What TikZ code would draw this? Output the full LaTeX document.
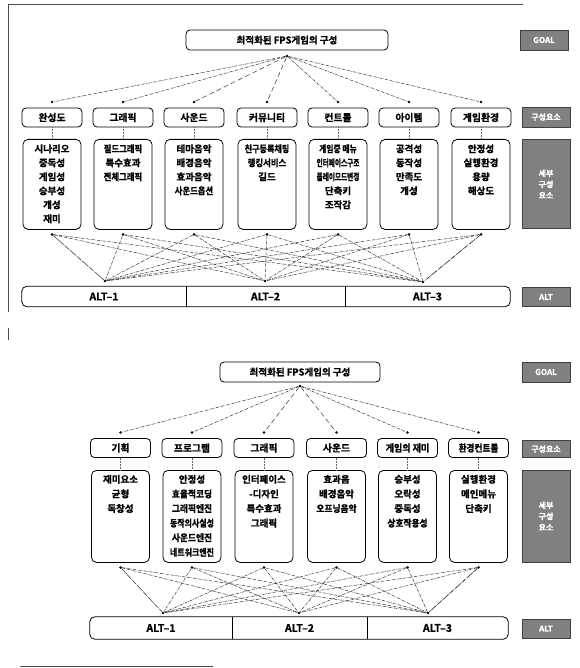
\documentclass[tikz,border=0pt]{standalone}
\usepackage{fontspec}
\setmainfont{Noto Sans CJK KR}[BoldFont={* Bold}, BoldFeatures={FakeBold=1.2}]
\usepackage{graphicx}
\usetikzlibrary{positioning}
\newcommand{\squish}[2]{\scalebox{#1}[1]{#2}}
\tikzset{
  crit/.style={draw, rounded corners=4pt, line width=0.8pt, minimum width=60pt,
               minimum height=19pt, inner sep=1pt, font=\bfseries\fontsize{9.8}{10}\selectfont},
  goalbox/.style={crit, minimum height=20pt, font=\bfseries\fontsize{9.5}{10}\selectfont},
  sub/.style={draw, rounded corners=5pt, line width=0.8pt, anchor=north, minimum width=58pt,
              inner sep=0pt, font=\bfseries\fontsize{9.5}{14}\selectfont},
  subB/.style={sub, font=\bfseries\fontsize{9.5}{14.6}\selectfont},
  tag/.style={fill=black!50, draw=black!75, minimum width=48pt, align=center, inner sep=1pt,
              text=white, font=\bfseries\fontsize{8}{11}\selectfont},
  alt/.style={minimum height=20pt, inner sep=0pt, font=\bfseries\fontsize{10.5}{11}\selectfont},
  dot/.style={circle, fill, inner sep=0pt, minimum size=2.8pt},
  lk/.style={line width=0.5pt, densely dash dot, black!80},
  lkd/.style={line width=0.5pt, dash pattern=on 5pt off 3pt, black!80},
  down/.style={line width=0.5pt, densely dotted, black!60},
  frame/.style={line width=0.6pt, black!70},
}
\begin{document}
\begin{tikzpicture}[x=1pt, y=-1pt]
  \useasboundingbox (0,0) rectangle (579,668);
  % scan frame
  \draw[frame] (8,312) -- (8,4) -- (523,4);
  \draw[frame] (8,328) -- (8,340);
  \draw[frame] (20,666) -- (213,666);

  % ===== upper hierarchy =====
  \node[goalbox, minimum width=202pt] (goalA) at (287,40) {최적화된 FPS게임의 구성};
  \node[dot] (gdA) at (287,56) {};

  \node[crit] (cA1) at (52,117.5) {완성도};
  \node[crit] (cA2) at (123,117.5) {그래픽};
  \node[crit] (cA3) at (194,117.5) {사운드};
  \node[crit] (cA4) at (267,117.5) {커뮤니티};
  \node[crit] (cA5) at (338,117.5) {컨트롤};
  \node[crit] (cA6) at (409,117.5) {아이템};
  \node[crit] (cA7) at (481,117.5) {게임환경};
  \foreach \i in {1,...,7} \node[dot, above=4pt of cA\i] (tA\i) {};

  \node[sub, minimum height=90pt] (sA1) at (52,139) {\parbox[c][80pt][t]{56pt}{\centering
    시나리오\\중독성\\게임성\\승부성\\개성\\재미}};
  \node[sub, minimum height=90pt] (sA2) at (123,139) {\parbox[c][80pt][t]{56pt}{\centering
    \squish{0.88}{필드그래픽}\\특수효과\\\squish{0.88}{전체그래픽}}};
  \node[sub, minimum height=90pt] (sA3) at (194,139) {\parbox[c][80pt][t]{56pt}{\centering
    테마음악\\배경음악\\효과음악\\\squish{0.88}{사운드옵션}}};
  \node[sub, minimum height=90pt] (sA4) at (267,139) {\parbox[c][80pt][t]{56pt}{\centering
    \squish{0.85}{친구등록채팅}\\\squish{0.88}{랭킹서비스}\\길드}};
  \node[sub, minimum height=90pt] (sA5) at (338,139) {\parbox[c][80pt][t]{56pt}{\centering
    \squish{0.82}{게임중 메뉴}\\\squish{0.7}{인터페이스구조}\\\squish{0.7}{플레이모드변경}\\단축키\\조작감}};
  \node[sub, minimum height=90pt] (sA6) at (409,139) {\parbox[c][80pt][t]{56pt}{\centering
    공격성\\동작성\\만족도\\개성}};
  \node[sub, minimum height=90pt] (sA7) at (481,139) {\parbox[c][80pt][t]{56pt}{\centering
    안정성\\실행환경\\용량\\해상도}};
  \foreach \i in {1,...,7} \node[dot, below=3pt of sA\i] (bA\i) {};

  \node[alt, minimum width=164pt] (altA1) at (104,296.5) {ALT–1};
  \node[alt, minimum width=159pt] (altA2) at (265.5,296.5) {ALT–2};
  \node[alt, minimum width=165pt] (altA3) at (427.5,296.5) {ALT–3};
  \draw[line width=0.8pt, rounded corners=5pt] (altA1.north west) rectangle (altA3.south east);
  \draw[line width=0.8pt] (altA1.north east) -- (altA1.south east);
  \draw[line width=0.8pt] (altA2.north east) -- (altA2.south east);
  \node[dot] (aA1) at (105,281) {};
  \node[dot] (aA2) at (265,281) {};
  \node[dot] (aA3) at (423,282) {};

  \draw[lk]  (gdA) -- (tA1);
  \draw[lk]  (gdA) -- (tA2);
  \draw[lkd] (gdA) -- (tA3);
  \draw[lkd] (gdA) -- (tA4);
  \draw[lk]  (gdA) -- (tA5);
  \draw[lk]  (gdA) -- (tA6);
  \draw[lk]  (gdA) -- (tA7);
  \foreach \i in {1,...,7} {
    \draw[down] (cA\i) -- (sA\i);
    \foreach \j in {1,2,3} \draw[lk] (bA\i) -- (aA\j);
  }
  \draw[lkd, white, line width=0.8pt] (bA1) -- (aA1);
  \draw[lkd] (bA1) -- (aA1);
  \draw[lkd] (bA7) -- (aA3);

  \node[tag, minimum height=20pt] (tagGA) at (544,40) {GOAL};
  \node[tag, minimum height=20pt] (tagCA) at (546,117) {구성요소};
  \node[tag, minimum height=89pt] (tagSA) at (546,184) {세부\\구성\\요소};
  \node[tag, minimum height=19pt] (tagAA) at (546,297) {ALT};

  % ===== lower hierarchy =====
  \node[goalbox, minimum width=160pt] (goalB) at (300,372) {최적화된 FPS게임의 구성};
  \node[dot] (gdB) at (300,386) {};

  \node[crit] (cB1) at (120.5,448) {기획};
  \node[crit] (cB2) at (192,448) {프로그램};
  \node[crit] (cB3) at (264,448) {그래픽};
  \node[crit] (cB4) at (336.5,448) {사운드};
  \node[crit] (cB5) at (407.5,448) {\squish{0.92}{게임의 재미}};
  \node[crit] (cB6) at (478.5,448) {\squish{0.88}{환경컨트롤}};
  \foreach \i in {1,...,6} \node[dot, above=4pt of cB\i] (tB\i) {};

  \node[subB, minimum height=92pt] (sB1) at (120.5,470) {\parbox[c][83pt][t]{56pt}{\centering
    재미요소\\균형\\독창성}};
  \node[subB, minimum height=92pt] (sB2) at (192,470) {\parbox[c][83pt][t]{56pt}{\centering
    안정성\\\squish{0.92}{효율적코딩}\\\squish{0.92}{그래픽엔진}\\\squish{0.84}{동작의사실성}\\\squish{0.92}{사운드엔진}\\\squish{0.84}{네트워크엔진}}};
  \node[subB, minimum height=92pt] (sB3) at (264,470) {\parbox[c][83pt][t]{56pt}{\centering
    인터페이스\\-디자인\\특수효과\\그래픽}};
  \node[subB, minimum height=92pt] (sB4) at (336.5,470) {\parbox[c][83pt][t]{56pt}{\centering
    효과음\\배경음악\\\squish{0.92}{오프닝음악}}};
  \node[subB, minimum height=92pt] (sB5) at (407.5,470) {\parbox[c][83pt][t]{56pt}{\centering
    승부성\\오락성\\중독성\\\squish{0.92}{상호작용성}}};
  \node[subB, minimum height=92pt] (sB6) at (478.5,470) {\parbox[c][83pt][t]{56pt}{\centering
    실행환경\\메인메뉴\\단축키}};
  \foreach \i in {1,...,6} \node[dot, below=3pt of sB\i] (bB\i) {};

  \node[alt, minimum width=142pt, minimum height=22pt] (altB1) at (161,628) {ALT–1};
  \node[alt, minimum width=135pt, minimum height=22pt] (altB2) at (299.5,628) {ALT–2};
  \node[alt, minimum width=141pt, minimum height=22pt] (altB3) at (437.5,628) {ALT–3};
  \draw[line width=0.8pt, rounded corners=5pt] (altB1.north west) rectangle (altB3.south east);
  \draw[line width=0.8pt] (altB1.north east) -- (altB1.south east);
  \draw[line width=0.8pt] (altB2.north east) -- (altB2.south east);
  \node[dot] (aB1) at (163,613) {};
  \node[dot] (aB2) at (299,613) {};
  \node[dot] (aB3) at (428,613) {};

  \draw[lk]  (gdB) -- (tB1);
  \draw[lk]  (gdB) -- (tB2);
  \draw[lkd] (gdB) -- (tB3);
  \draw[lkd] (gdB) -- (tB4);
  \draw[lk]  (gdB) -- (tB5);
  \draw[lk]  (gdB) -- (tB6);
  \foreach \i in {1,...,6} {
    \draw[down] (cB\i) -- (sB\i);
    \foreach \j in {1,2,3} \draw[lk] (bB\i) -- (aB\j);
  }
  \draw[lkd, white, line width=0.8pt] (bB1) -- (aB1);
  \draw[lkd] (bB1) -- (aB1);
  \draw[lkd] (bB6) -- (aB3);

  \node[tag, minimum height=20pt] (tagGB) at (546,372) {GOAL};
  \node[tag, minimum height=17pt] (tagCB) at (546,449) {구성요소};
  \node[tag, minimum height=92pt] (tagSB) at (546,516) {세부\\구성\\요소};
  \node[tag, minimum height=19pt] (tagAB) at (546,628.5) {ALT};
\end{tikzpicture}
\end{document}
